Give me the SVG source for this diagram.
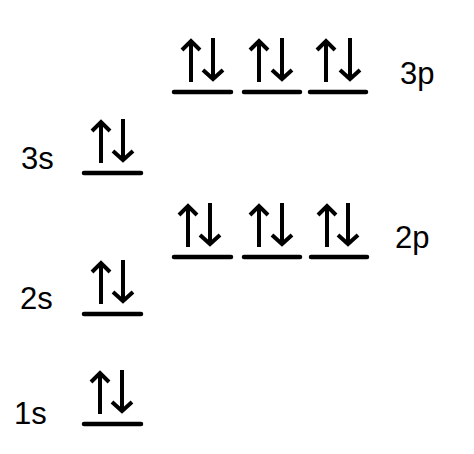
<svg xmlns="http://www.w3.org/2000/svg" width="474" height="454" viewBox="0 0 474 454">
  <defs>
    <style>
      .lvl { stroke: #000; stroke-width: 4.5; stroke-linecap: round; fill: none; }
      .arr { stroke: #000; stroke-width: 4; fill: none; stroke-linejoin: miter; stroke-linecap: butt; }
      .lbl { font-family: "Liberation Sans", Arial, sans-serif; font-size: 31px; fill: #000; }
    </style>
    <path id="up" class="arr" d="M0,-10 V-51 M-9,-42 L0,-51 L9,-42"/>
    <path id="down" class="arr" d="M0,-54 V-13 M-10,-22 L0,-13 L10,-22"/>
  </defs>
  <rect width="474" height="454" fill="#fff"/>

  <g id="orb-3p">
    <line class="lvl" x1="174" y1="92" x2="231" y2="92"/>
    <use href="#up" x="191" y="92"/><use href="#down" x="213" y="92"/>
    <line class="lvl" x1="244" y1="92" x2="300" y2="92"/>
    <use href="#up" x="259" y="92"/><use href="#down" x="282" y="92"/>
    <line class="lvl" x1="310" y1="92" x2="366" y2="92"/>
    <use href="#up" x="326" y="92"/><use href="#down" x="350" y="92"/>
    <text class="lbl" x="400" y="84">3p</text>
  </g>

  <g id="orb-3s">
    <line class="lvl" x1="84" y1="173" x2="141" y2="173"/>
    <use href="#up" x="101" y="173"/><use href="#down" x="123" y="173"/>
    <text class="lbl" x="21" y="169">3s</text>
  </g>

  <g id="orb-2p">
    <line class="lvl" x1="174" y1="257" x2="231" y2="257"/>
    <use href="#up" x="188" y="257"/><use href="#down" x="210" y="257"/>
    <line class="lvl" x1="244" y1="257" x2="300" y2="257"/>
    <use href="#up" x="259" y="257"/><use href="#down" x="282" y="257"/>
    <line class="lvl" x1="311" y1="257" x2="367" y2="257"/>
    <use href="#up" x="327" y="257"/><use href="#down" x="348" y="257"/>
    <text class="lbl" x="395" y="248">2p</text>
  </g>

  <g id="orb-2s">
    <line class="lvl" x1="84" y1="314" x2="141" y2="314"/>
    <use href="#up" x="101" y="314"/><use href="#down" x="123" y="314"/>
    <text class="lbl" x="20" y="309">2s</text>
  </g>

  <g id="orb-1s">
    <line class="lvl" x1="84" y1="424" x2="141" y2="424"/>
    <use href="#up" x="100" y="424"/><use href="#down" x="122" y="424"/>
    <text class="lbl" x="14" y="424">1s</text>
  </g>

  <g id="connectors"/>
</svg>
